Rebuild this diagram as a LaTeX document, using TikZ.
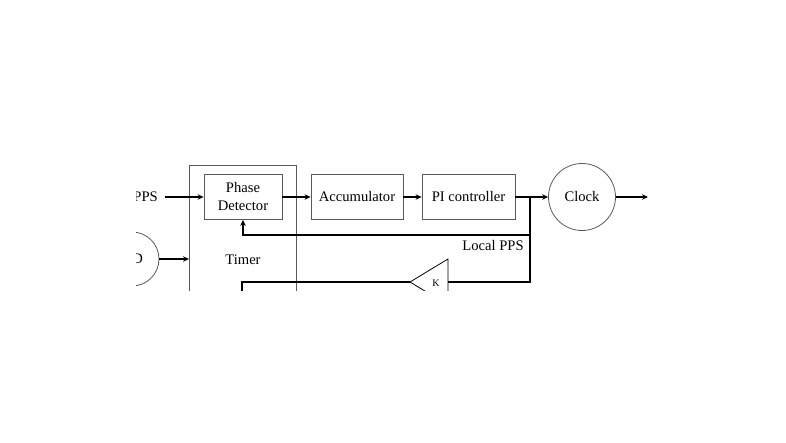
\documentclass[tikz,border=0pt]{standalone}
\usepackage{fontspec}
\setmainfont{Liberation Serif}
\usetikzlibrary{arrows.meta}
\begin{document}
\begin{tikzpicture}[x=1pt,y=-1pt,
  box/.style={draw=black!65, line width=0.8pt, rectangle, inner sep=0pt, align=center, font=\fontsize{14.6}{18}\selectfont},
  lbl/.style={inner sep=0pt, font=\fontsize{14.6}{18}\selectfont},
  sig/.style={line width=2pt, draw=black},
  arr/.style={sig, -{Stealth[length=6pt,width=5.5pt]}}]
\useasboundingbox (0,0) rectangle (786,442);
\begin{scope}
\clip (136,0) rectangle (786,290);
% Timer outer box
\node[box, anchor=north west, minimum width=107pt, minimum height=160pt] (timer) at (189,164.5) {};
\node[lbl] (timerlbl) at (243,260) {Timer};
% blocks
\node[box, minimum width=78pt, minimum height=45pt] (pd) at (243,197) {Phase\\Detector};
\node[box, minimum width=92pt, minimum height=45pt] (acc) at (357,197) {Accumulator};
\node[box, minimum width=93pt, minimum height=45pt] (pi) at (468.5,197) {PI controller};
\node[box, circle, minimum size=67pt] (clock) at (582,197) {Clock};
\coordinate (out) at (648,197);
\coordinate (j) at (530,197);
\coordinate (jfb) at (530,235);
\coordinate (jk) at (530,282);
% input PPS
\node[lbl, anchor=east] (pps) at (158,197) {PPS};
\coordinate (ppsend) at (165,197);
% left oscillator circle
\node[box, circle, minimum size=54pt] (osc) at (132,259) {};
\node[lbl, anchor=east] (osclbl) at (143,259) {D};
% gain triangle
\coordinate (ktip) at (410,282);
\coordinate (kback) at (448,282);
\draw[line width=0.8pt] (448,259) -- (ktip) -- (448,305) -- cycle;
\node[inner sep=0pt, font=\fontsize{10}{12}\selectfont] (k) at (436,283) {K};
\coordinate (bl) at (242,282);
\coordinate (bd) at (242,300);
\node[lbl] (local) at (493,246) {Local PPS};
% connectors
\draw[arr] (ppsend) -- (pd.west);
\draw[arr] (pd.east) -- (acc.west);
\draw[arr] (acc.east) -- (pi.west);
\draw[arr] (pi.east) -- (clock.west);
\draw[arr] (clock.east) -- (out);
\draw[sig] (j) -- (jk) -- (kback);
\draw[arr] (jfb) -- (jfb -| pd.south) -- (pd.south);
\draw[sig] (ktip) -- (bl) -- (bd);
\draw[arr] (osc.east) -- (timer.west |- osc.east);
\end{scope}
\end{tikzpicture}
\end{document}
